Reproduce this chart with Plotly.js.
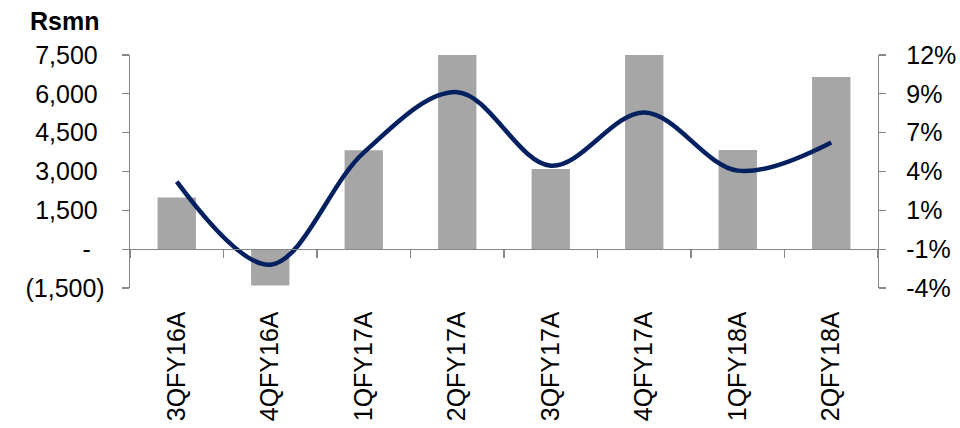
<!DOCTYPE html>
<html>
<head>
<meta charset="utf-8">
<script src="https://cdn.plot.ly/plotly-3.0.1.min.js"></script>
<style>
  html, body { margin: 0; padding: 0; background: #fff; }
  #chart { width: 960px; height: 428px; }
</style>
</head>
<body>
<div id="chart"></div>
<script>
// Quarterly figures: amount in Rs mn (bars) and margin in % (line)
const quarters = ['3QFY16A', '4QFY16A', '1QFY17A', '2QFY17A', '3QFY17A', '4QFY17A', '1QFY18A', '2QFY18A'];
const amountRsmn = [2000, -1400, 3820, 7500, 3100, 7500, 3830, 6650];
const marginPct = [3.3, -2.4, 5.3, 9.45, 4.4, 8.05, 4.06, 6.0];

// Left axis ticks (accounting style labels)
const leftTickVals = [-1500, 0, 1500, 3000, 4500, 6000, 7500];
const leftTickText = ['(1,500)', '-\u00a0\u00a0', '1,500\u00a0', '3,000\u00a0', '4,500\u00a0', '6,000\u00a0', '7,500\u00a0'];

// Right axis ticks
const rightTickVals = [-4, -4 / 3, 4 / 3, 4, 20 / 3, 28 / 3, 12];
const rightTickText = ['-4%', '-1%', '1%', '4%', '7%', '9%', '12%'];

const axisGrey = '#868686';
const font = { family: '"Liberation Sans", Arial, sans-serif', size: 25, color: '#000' };

const traces = [
  {
    type: 'bar',
    x: quarters,
    y: amountRsmn,
    width: 0.41,
    marker: { color: '#a6a6a6' },
    hoverinfo: 'x+y',
    yaxis: 'y'
  },
  {
    type: 'scatter',
    mode: 'lines',
    x: quarters,
    y: marginPct,
    line: { color: '#002060', width: 4.5, shape: 'spline', smoothing: 1 },
    yaxis: 'y2'
  }
];

const layout = {
  width: 960,
  height: 428,
  margin: { l: 130, r: 82, t: 55, b: 140 },
  paper_bgcolor: '#fff',
  plot_bgcolor: 'rgba(0,0,0,0)',
  showlegend: false,
  font: font,
  xaxis: {
    type: 'category',
    categoryorder: 'array',
    categoryarray: quarters,
    range: [-0.5, 7.5],
    anchor: 'free',
    position: 1 / 6,
    showline: true,
    linecolor: axisGrey,
    linewidth: 1.3,
    ticks: 'outside',
    tickson: 'boundaries',
    ticklen: 8,
    tickwidth: 1.3,
    tickcolor: axisGrey,
    tickangle: -90,
    ticklabelstandoff: 51,
    tickfont: font,
    showgrid: false,
    zeroline: false,
    fixedrange: true
  },
  yaxis: {
    range: [-1500, 7500],
    tickmode: 'array',
    tickvals: leftTickVals,
    ticktext: leftTickText,
    showline: true,
    linecolor: axisGrey,
    linewidth: 1.3,
    ticks: 'outside',
    ticklen: 7,
    tickwidth: 1.3,
    tickcolor: axisGrey,
    ticklabelstandoff: 12,
    tickfont: font,
    showgrid: false,
    zeroline: false,
    fixedrange: true
  },
  yaxis2: {
    overlaying: 'y',
    side: 'right',
    anchor: 'x',
    range: [-4, 12],
    tickmode: 'array',
    tickvals: rightTickVals,
    ticktext: rightTickText,
    showline: true,
    linecolor: axisGrey,
    linewidth: 1.3,
    ticks: 'outside',
    ticklen: 7,
    tickwidth: 1.3,
    tickcolor: axisGrey,
    ticklabelstandoff: 15,
    tickfont: font,
    showgrid: false,
    zeroline: false,
    fixedrange: true
  },
  annotations: [
    {
      text: '<b>Rsmn</b>',
      xref: 'paper', yref: 'paper',
      x: -0.087, y: 1.146,
      xanchor: 'center', yanchor: 'middle',
      showarrow: false,
      font: { family: font.family, size: 25, color: '#000' }
    }
  ]
};

Plotly.newPlot('chart', traces, layout, { displayModeBar: false, staticPlot: true });
</script>
</body>
</html>
